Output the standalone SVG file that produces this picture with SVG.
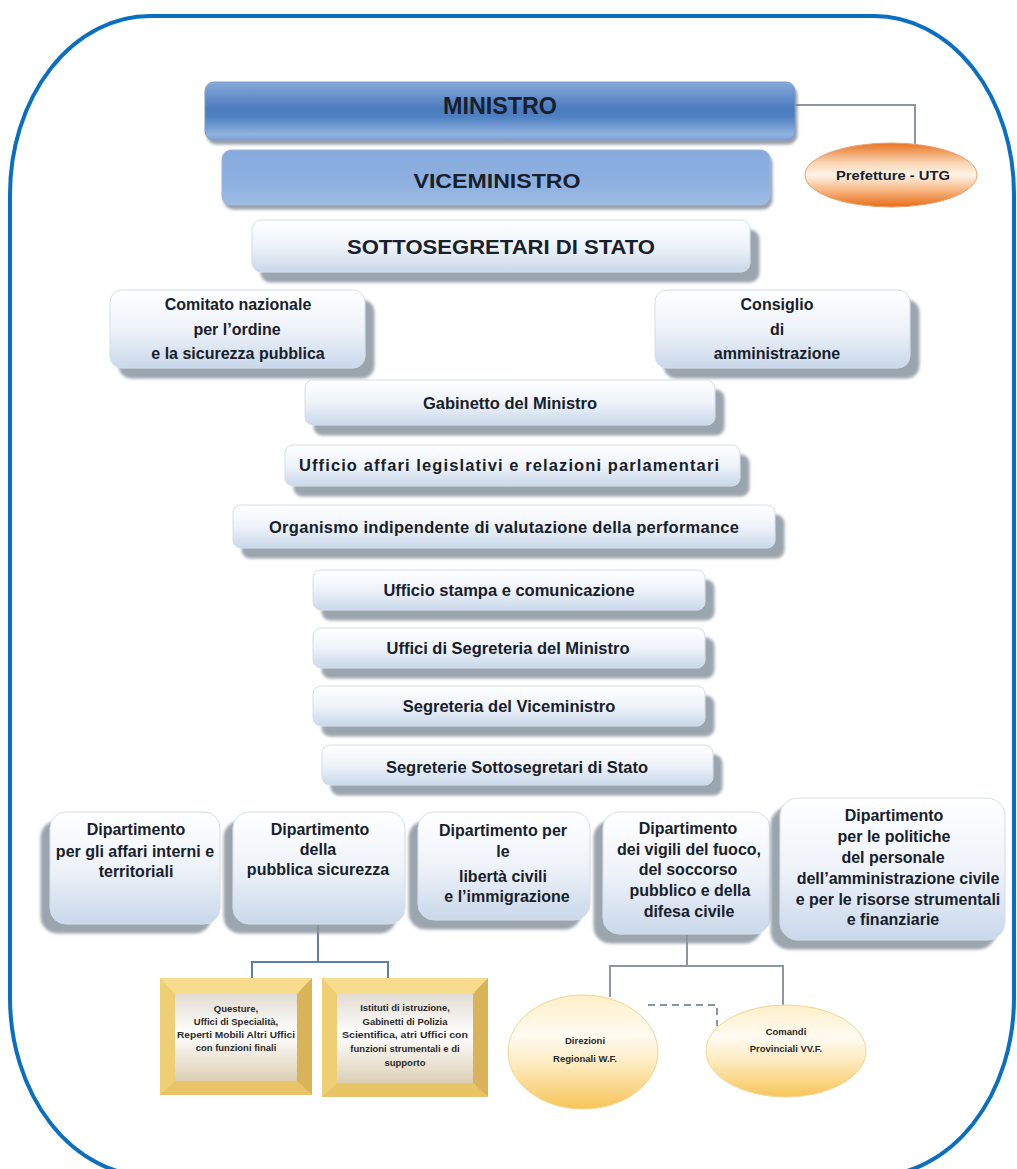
<svg xmlns="http://www.w3.org/2000/svg" width="1017" height="1169" viewBox="0 0 1017 1169">
<defs>
<linearGradient id="gMin" x1="0" y1="0" x2="0" y2="1">
<stop offset="0" stop-color="#86AADB"/><stop offset="0.45" stop-color="#4C7CBE"/><stop offset="0.6" stop-color="#4F80C1"/><stop offset="0.9" stop-color="#8FB2E0"/><stop offset="1" stop-color="#7FA2D2"/>
</linearGradient>
<linearGradient id="gVice" x1="0" y1="0" x2="0" y2="1">
<stop offset="0" stop-color="#87ABDD"/><stop offset="0.6" stop-color="#8DB0E0"/><stop offset="1" stop-color="#9EBCE6"/>
</linearGradient>
<linearGradient id="gLight" x1="0" y1="0" x2="0" y2="1">
<stop offset="0" stop-color="#FFFFFF"/><stop offset="0.5" stop-color="#EEF3F9"/><stop offset="1" stop-color="#C9D8EA"/>
</linearGradient>
<linearGradient id="gPref" x1="0" y1="0" x2="0" y2="1">
<stop offset="0" stop-color="#E9731F"/><stop offset="0.3" stop-color="#F8D2B0"/><stop offset="0.5" stop-color="#FFF4E8"/><stop offset="0.75" stop-color="#F6B37C"/><stop offset="1" stop-color="#E86C17"/>
</linearGradient>
<linearGradient id="gGold" x1="0" y1="0" x2="0" y2="1">
<stop offset="0" stop-color="#FDEFC8"/><stop offset="0.35" stop-color="#FFFBF2"/><stop offset="0.6" stop-color="#FDEBC0"/><stop offset="1" stop-color="#F7C558"/>
</linearGradient>
<linearGradient id="gPanel" x1="0" y1="0" x2="0" y2="1">
<stop offset="0" stop-color="#E2DCD2"/><stop offset="0.45" stop-color="#FFFFFF"/><stop offset="1" stop-color="#DCCFB5"/>
</linearGradient>
<filter id="shR" x="-10%" y="-20%" width="130%" height="160%">
<feDropShadow dx="9" dy="10" stdDeviation="1.5" flood-color="#8A949F" flood-opacity="0.85"/>
</filter>
<filter id="shL" x="-20%" y="-20%" width="140%" height="150%">
<feDropShadow dx="-9" dy="9" stdDeviation="1.5" flood-color="#8A949F" flood-opacity="0.85"/>
</filter>
<filter id="shS" x="-10%" y="-20%" width="130%" height="160%">
<feDropShadow dx="2" dy="4" stdDeviation="1.5" flood-color="#7D8791" flood-opacity="0.8"/>
</filter>
<style>
text{font-family:"Liberation Sans",Arial,sans-serif;font-weight:bold;fill:#17202B;text-anchor:middle}
.lb{fill:url(#gLight);stroke:#D5DDE7;stroke-width:1}
.t13{font-size:16px}
.t14{font-size:16.5px}
.sm{font-size:9.5px;fill:#2A2A2A}
.ln{fill:none;stroke:#8D97A3;stroke-width:2}
.lnb{fill:none;stroke:#5C7FA8;stroke-width:2}
</style>
</defs>
<rect width="1017" height="1169" fill="#FFFFFF"/>
<rect x="10" y="16" width="1004" height="1160" rx="140" ry="178" fill="none" stroke="#0A6FC2" stroke-width="4"/>

<g id="connectors">
<polyline class="ln" points="795,105 915,105 915,144"/>
<polyline class="lnb" points="318,925 318,962"/>
<polyline class="lnb" points="252,980 252,962 388,962 388,980"/>
<polyline class="ln" points="687,935 687,966"/>
<polyline class="ln" points="610,997 610,966 783,966 783,1007"/>
<polyline points="648,1005 717,1005 717,1026" fill="none" stroke="#7F95B0" stroke-width="2" stroke-dasharray="7,5"/>
</g>

<g id="ministro">
<rect x="205" y="82" width="590" height="58" rx="9" fill="url(#gMin)" stroke="#7E9CC4" stroke-width="1" filter="url(#shS)"/>
<text x="500" y="114" style="font-size:24px" textLength="114" lengthAdjust="spacingAndGlyphs">MINISTRO</text>
</g>
<g id="viceministro">
<rect x="222" y="150" width="548" height="55" rx="9" fill="url(#gVice)" stroke="#9DB6D8" stroke-width="1" filter="url(#shS)"/>
<text x="497" y="188" style="font-size:20px" textLength="167" lengthAdjust="spacingAndGlyphs">VICEMINISTRO</text>
</g>
<g id="prefetture">
<ellipse cx="891" cy="175" rx="86" ry="32" fill="url(#gPref)" stroke="#E8A070" stroke-width="1"/>
<text x="893" y="180" style="font-size:12.5px" textLength="114" lengthAdjust="spacingAndGlyphs">Prefetture - UTG</text>
</g>
<g id="sottosegretari">
<rect x="252" y="220" width="498" height="52" rx="9" class="lb" filter="url(#shR)"/>
<text x="501" y="254" style="font-size:20px" textLength="308" lengthAdjust="spacingAndGlyphs">SOTTOSEGRETARI DI STATO</text>
</g>
<g id="comitato">
<rect x="110" y="290" width="255" height="78" rx="12" class="lb" filter="url(#shR)"/>
<text x="238" y="310" class="t13">Comitato nazionale</text>
<text x="237" y="335" class="t13">per l’ordine</text>
<text x="238" y="359" class="t13">e la sicurezza pubblica</text>
</g>
<g id="consiglio">
<rect x="655" y="290" width="255" height="78" rx="12" class="lb" filter="url(#shR)"/>
<text x="777" y="310" class="t13">Consiglio</text>
<text x="777" y="335" class="t13">di</text>
<text x="777" y="359" class="t13">amministrazione</text>
</g>
<g id="gabinetto">
<rect x="305" y="380" width="410" height="45" rx="8" class="lb" filter="url(#shR)"/>
<text x="510" y="409" class="t14">Gabinetto del Ministro</text>
</g>
<g id="legislativi">
<rect x="285" y="445" width="455" height="41" rx="8" class="lb" filter="url(#shR)"/>
<text x="509" y="471" class="t14" textLength="420" lengthAdjust="spacing">Ufficio affari legislativi e relazioni parlamentari</text>
</g>
<g id="oiv">
<rect x="233" y="505" width="542" height="43" rx="8" class="lb" filter="url(#shR)"/>
<text x="504" y="533" class="t14" textLength="470" lengthAdjust="spacing">Organismo indipendente di valutazione della performance</text>
</g>
<g id="stampa">
<rect x="313" y="570" width="392" height="40" rx="8" class="lb" filter="url(#shR)"/>
<text x="509" y="596" class="t14">Ufficio stampa e comunicazione</text>
</g>
<g id="segreteria-ministro">
<rect x="313" y="628" width="392" height="40" rx="8" class="lb" filter="url(#shR)"/>
<text x="508" y="654" class="t14">Uffici di Segreteria del Ministro</text>
</g>
<g id="segreteria-vice">
<rect x="313" y="686" width="392" height="40" rx="8" class="lb" filter="url(#shR)"/>
<text x="509" y="712" class="t14">Segreteria del Viceministro</text>
</g>
<g id="segreterie-sottosegretari">
<rect x="322" y="745" width="391" height="40" rx="8" class="lb" filter="url(#shR)"/>
<text x="517" y="773" class="t14">Segreterie Sottosegretari di Stato</text>
</g>

<g id="dip-interni">
<rect x="50" y="812" width="170" height="112" rx="16" class="lb" filter="url(#shL)"/>
<text x="136" y="835" class="t13">Dipartimento</text>
<text x="135" y="857" class="t13">per gli affari interni e</text>
<text x="136" y="877" class="t13">territoriali</text>
</g>
<g id="dip-ps">
<rect x="233" y="812" width="172" height="112" rx="16" class="lb" filter="url(#shL)"/>
<text x="320" y="835" class="t13">Dipartimento</text>
<text x="318" y="855" class="t13">della</text>
<text x="318" y="875" class="t13">pubblica sicurezza</text>
</g>
<g id="dip-liberta">
<rect x="418" y="812" width="172" height="108" rx="16" class="lb" filter="url(#shL)"/>
<text x="503" y="836" class="t13">Dipartimento per</text>
<text x="503" y="857" class="t13">le</text>
<text x="503" y="882" class="t13">libertà civili</text>
<text x="507" y="902" class="t13">e l’immigrazione</text>
</g>
<g id="dip-vigili">
<rect x="603" y="812" width="167" height="122" rx="16" class="lb" filter="url(#shL)"/>
<text x="688" y="834" class="t13">Dipartimento</text>
<text x="689" y="855" class="t13">dei vigili del fuoco,</text>
<text x="688" y="875" class="t13">del soccorso</text>
<text x="690" y="896" class="t13">pubblico e della</text>
<text x="689" y="917" class="t13">difesa civile</text>
</g>
<g id="dip-personale">
<rect x="780" y="798" width="225" height="142" rx="18" class="lb" filter="url(#shL)"/>
<text x="894" y="821" class="t13">Dipartimento</text>
<text x="894" y="842" class="t13">per le politiche</text>
<text x="893" y="863" class="t13">del personale</text>
<text x="898" y="884" class="t13">dell’amministrazione civile</text>
<text x="898" y="905" class="t13">e per le risorse strumentali</text>
<text x="893" y="925" class="t13">e finanziarie</text>
</g>

<g id="questure">
<rect x="160" y="978" width="152" height="117" fill="#EFCF73"/>
<polygon points="160,978 312,978 297,994 175,994" fill="#F6DC8C"/>
<polygon points="312,978 312,1095 297,1081 297,994" fill="#D8B35A"/>
<polygon points="160,1095 312,1095 297,1081 175,1081" fill="#E9C466"/>
<rect x="175" y="994" width="122" height="87" fill="url(#gPanel)"/>
<text x="236" y="1012" class="sm">Questure,</text>
<text x="236" y="1025" class="sm">Uffici di Specialità,</text>
<text x="236" y="1038" class="sm" textLength="118" lengthAdjust="spacingAndGlyphs">Reperti Mobili Altri Uffici</text>
<text x="236" y="1051" class="sm">con funzioni finali</text>
</g>
<g id="istituti">
<rect x="322" y="978" width="166" height="119" fill="#EFCF73"/>
<polygon points="322,978 488,978 473,994 337,994" fill="#F6DC8C"/>
<polygon points="488,978 488,1097 473,1083 473,994" fill="#D8B35A"/>
<polygon points="322,1097 488,1097 473,1083 337,1083" fill="#E9C466"/>
<rect x="337" y="994" width="136" height="89" fill="url(#gPanel)"/>
<text x="405" y="1011" class="sm">Istituti di istruzione,</text>
<text x="405" y="1025" class="sm">Gabinetti di Polizia</text>
<text x="405" y="1038" class="sm" textLength="126" lengthAdjust="spacingAndGlyphs">Scientifica, atri Uffici con</text>
<text x="405" y="1052" class="sm">funzioni strumentali e di</text>
<text x="405" y="1066" class="sm">supporto</text>
</g>
<g id="direzioni">
<ellipse cx="583" cy="1052" rx="75" ry="57" fill="url(#gGold)" stroke="#F3D690" stroke-width="1"/>
<text x="585" y="1044" class="sm">Direzioni</text>
<text x="585" y="1062" class="sm">Regionali W.F.</text>
</g>
<g id="comandi">
<ellipse cx="786" cy="1051" rx="80" ry="46" fill="url(#gGold)" stroke="#F3D690" stroke-width="1"/>
<text x="786" y="1035" class="sm">Comandi</text>
<text x="786" y="1052" class="sm">Provinciali VV.F.</text>
</g>
</svg>
